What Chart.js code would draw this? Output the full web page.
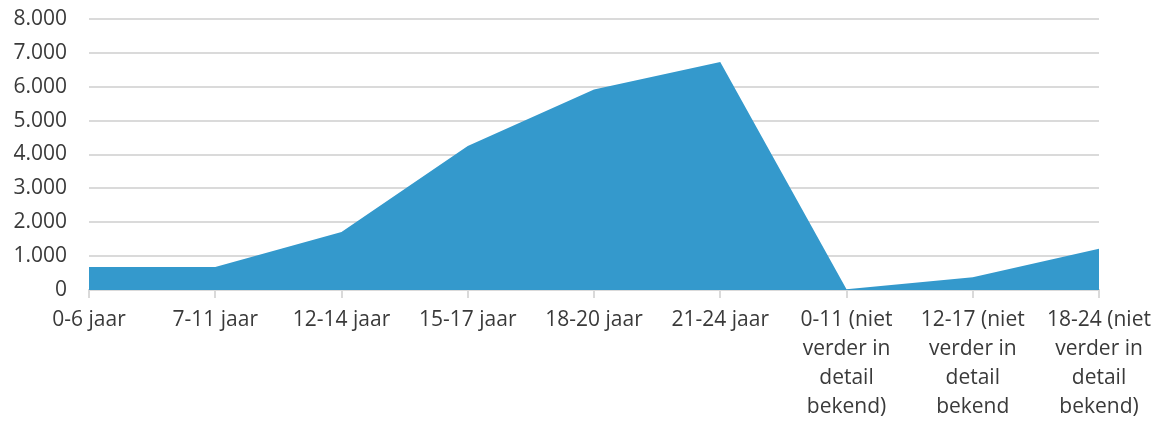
<!DOCTYPE html>
<html>
<head>
<meta charset="utf-8">
<script src="https://cdn.jsdelivr.net/npm/chart.js@4"></script>
<style>
    html, body { margin: 0; padding: 0; background: #fff; }
    #wrap { width: 1162px; height: 434px; }
</style>
</head>
<body>
<div id="wrap"><canvas id="areaChart" width="1162" height="434"></canvas></div>
<script>
const categories = [
    '0-6 jaar',
    '7-11 jaar',
    '12-14 jaar',
    '15-17 jaar',
    '18-20 jaar',
    '21-24 jaar',
    ['0-11 (niet', 'verder in', 'detail', 'bekend)'],
    ['12-17 (niet', 'verder in', 'detail', 'bekend'],
    ['18-24 (niet', 'verder in', 'detail', 'bekend)']
];
const aantallen = [680, 680, 1710, 4250, 5920, 6730, 20, 380, 1220];
const yTicks = [0, 1000, 2000, 3000, 4000, 5000, 6000, 7000, 8000];

const gridColor = '#dadada';
const textColor = '#3a3a3a';

// getallen met punt als duizendtalscheiding
function formatNL(v) {
    return String(v).replace(/\B(?=(\d{3})+(?!\d))/g, '.');
}

const ctx = document.getElementById('areaChart').getContext('2d');
new Chart(ctx, {
    type: 'line',
    data: {
        labels: categories,
        datasets: [{
            data: aantallen,
            fill: 'origin',
            backgroundColor: '#3499cc',
            borderWidth: 0,
            pointRadius: 0,
            tension: 0
        }]
    },
    options: {
        responsive: false,
        animation: false,
        layout: { padding: { top: 19, right: 63, left: 0, bottom: 0 } },
        plugins: {
            legend: { display: false },
            tooltip: { enabled: false }
        },
        scales: {
            x: {
                offset: false,
                grid: {
                    drawOnChartArea: false,
                    drawTicks: true,
                    tickLength: 8,
                    color: gridColor,
                    lineWidth: 2
                },
                border: { display: true, color: gridColor, width: 2 },
                ticks: {
                    color: textColor,
                    font: { family: 'Open Sans', size: 21, lineHeight: 1.38 },
                    maxRotation: 0,
                    autoSkip: false,
                    padding: 8
                },
                afterFit: (scale) => { scale.height = 144; }
            },
            y: {
                min: 0,
                max: 8000,
                afterBuildTicks: (scale) => {
                    scale.ticks = yTicks.map(v => ({ value: v }));
                },
                grid: {
                    drawTicks: false,
                    color: gridColor,
                    lineWidth: 2
                },
                border: { display: false },
                ticks: {
                    color: textColor,
                    font: { family: 'Open Sans', size: 21 },
                    padding: 22,
                    callback: (v) => formatNL(v)
                },
                afterFit: (scale) => {
                    scale.width = 89;
                    scale.paddingTop = 10;
                    scale.paddingBottom = 10;
                }
            }
        }
    }
});
</script>
</body>
</html>
